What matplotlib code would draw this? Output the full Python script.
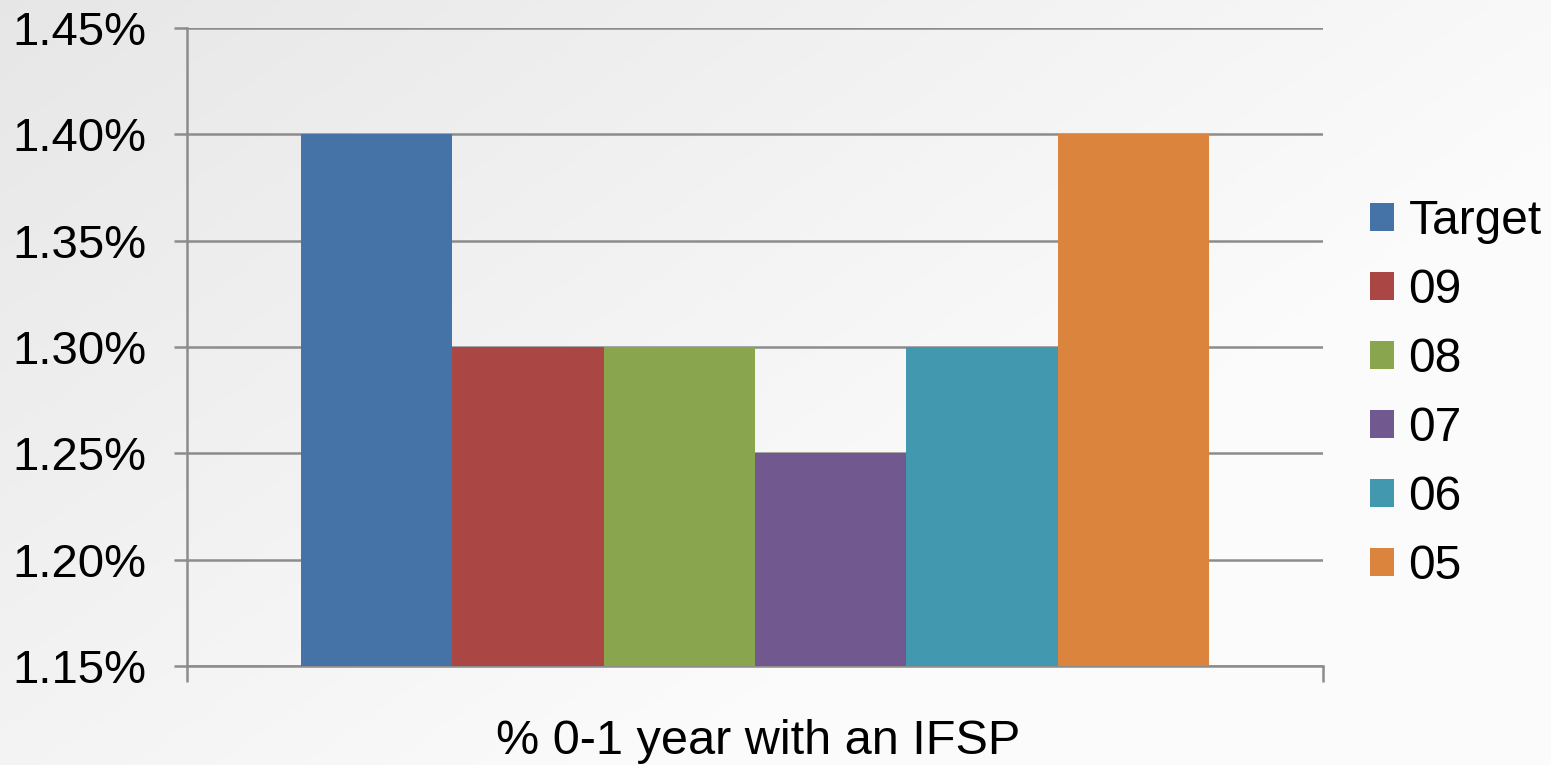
import numpy as np
import matplotlib
matplotlib.use("Agg")
import matplotlib.pyplot as plt
from matplotlib.patches import Patch
from matplotlib.ticker import FuncFormatter

plt.rcParams['font.family'] = ['Liberation Sans', 'DejaVu Sans']

series = ["Target", "09", "08", "07", "06", "05"]
values = [1.40, 1.30, 1.30, 1.25, 1.30, 1.40]
colors = ["#4572A7", "#AA4643", "#89A54E", "#71588F", "#4198AF", "#DB843D"]
category = "% 0-1 year with an IFSP"
y_ticks = [1.15, 1.20, 1.25, 1.30, 1.35, 1.40, 1.45]

W, H = 1551, 765
fig = plt.figure(figsize=(W / 100, H / 100), dpi=100)

# background gradient
bg = fig.add_axes([0, 0, 1, 1], zorder=-10)
xx = np.linspace(0, 1, 300)
yy = np.linspace(0, 1, 150)
X, Y = np.meshgrid(xx, yy)
val = 0.905 + 0.07 * X + 0.05 * Y
val = np.clip(val, 0, 0.985)
img = np.dstack([val, val, val])
bg.imshow(img, aspect='auto', extent=[0, 1, 0, 1], origin='upper')
bg.axis('off')

ax = fig.add_axes([187 / W, 1 - 666 / H, (1323 - 187) / W, (666 - 28) / H])
ax.patch.set_alpha(0)

n = len(series)
bw = 0.8 / n
for i, (s, v, c) in enumerate(zip(series, values, colors)):
    x = -0.4 + bw * (i + 0.5)
    ax.bar(x, v - y_ticks[0], bottom=y_ticks[0], width=bw, color=c,
           edgecolor='none', zorder=3, label=s)

ax.set_xlim(-0.5, 0.5)
ax.set_ylim(y_ticks[0], y_ticks[-1])
ax.set_yticks(y_ticks)
ax.yaxis.set_major_formatter(FuncFormatter(lambda v, p: f"{v:.2f}%"))
ax.grid(axis='y', color='#8c8c8c', linewidth=1.8, zorder=1)
ax.set_axisbelow(True)

for side in ['top', 'right']:
    ax.spines[side].set_visible(False)
for side in ['left', 'bottom']:
    ax.spines[side].set_color('#8c8c8c')
    ax.spines[side].set_linewidth(1.8)

ax.tick_params(axis='y', direction='out', length=9.5, width=1.8, color='#8c8c8c',
               labelsize=34, pad=20, labelcolor='black')
ax.set_xticks([-0.5, 0.5])
ax.set_xticklabels([])
ax.tick_params(axis='x', direction='out', length=11.5, width=1.8, color='#8c8c8c')

fig.text(758 / W, 1 - 741 / H, category, ha='center', va='center', fontsize=35)

handles = [Patch(facecolor=c, edgecolor='none') for c in colors]
leg = fig.legend(handles, series, loc='center left',
                 bbox_to_anchor=(1351 / W, 1 - 394 / H), frameon=False,
                 fontsize=34.5, handlelength=0.5, handleheight=0.5,
                 handletextpad=0.3, labelspacing=0.5, borderaxespad=0)

fig.savefig("out.png", dpi=100)
